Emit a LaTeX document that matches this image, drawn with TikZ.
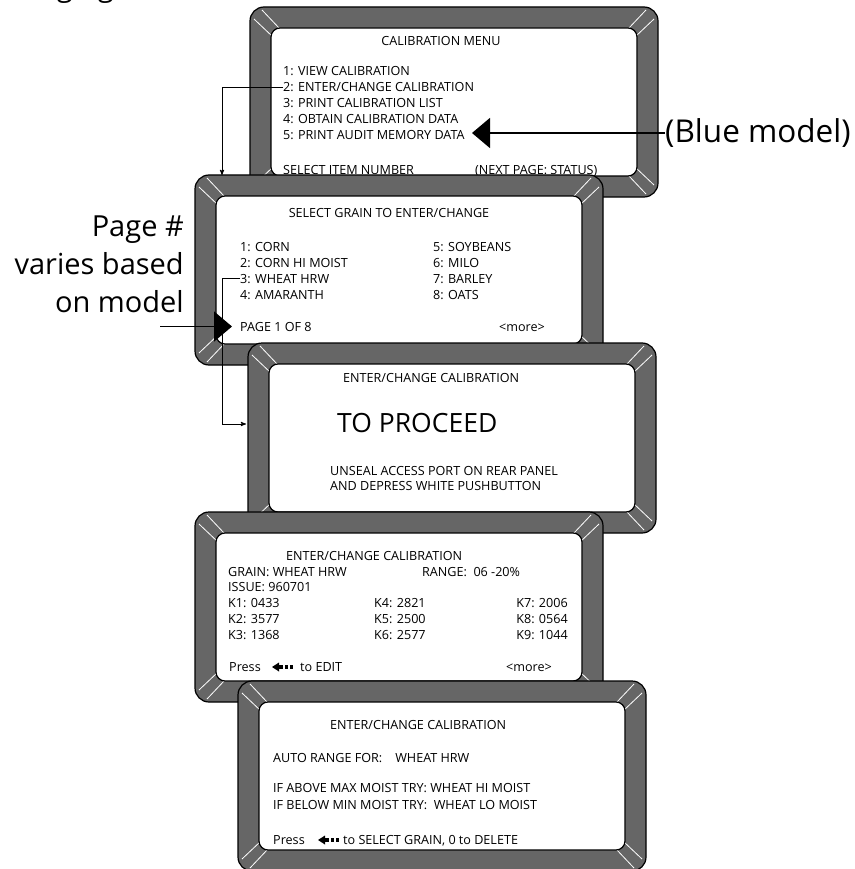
\documentclass[tikz,border=0pt]{standalone}
\usepackage{fontspec}
\setmainfont{Open Sans}
\usetikzlibrary{arrows, arrows.meta, positioning}
\definecolor{bezel}{RGB}{102,102,102}

\begin{document}
\begin{tikzpicture}[x=1pt, y=-1pt]
	\tikzset{scr/.style={font=\fontsize{12.6}{14}\selectfont, inner sep=0pt, text height=9pt, text depth=0pt, anchor=base west},
		big/.style={font=\fontsize{29}{38}\selectfont, inner sep=0pt},
		link/.style={->, >=stealth', line width=0.9pt},
		pointer/.style={-{Triangle[length=18pt, width=30pt]}, line width=1.6pt},
		screen/.pic={
			\draw[fill=bezel, line width=1.2pt, rounded corners=14pt] (0,0) rectangle (408,190);
			\foreach \sx/\sy/\ox/\oy in {1/1/0/0, -1/1/408/0, 1/-1/0/190, -1/-1/408/190}
				\draw[white, line width=0.8pt, shift={(\ox,\oy)}, xscale=\sx, yscale=\sy] (4,12) -- (23,30) (12,3) -- (30,22);
			\draw[fill=white, line width=1.2pt, rounded corners=9pt] (21,21) rectangle (387,169);
		},
		delkey/.pic={
			\fill (0,0) -- (7,-4.5) -- (7,4.5) -- cycle;
			\fill (7,-1.8) rectangle (11,1.8);
			\fill (12.5,-2) rectangle (16,2);
			\fill (17.5,-2) rectangle (21,2);
		}
	}
	\useasboundingbox (0,0) rectangle (854,869);

	% heading cut off at the top
	\node[big, anchor=base east] (head) at (114,-3) {Changing};

	% calibration menu
	\pic at (250,7) {screen};
	\node[scr, anchor=base] (m1title) at (441,46) {CALIBRATION MENU};
	\node[scr] (m1a) at (283,76) {1: VIEW CALIBRATION};
	\node[scr] (m1b) at (283,92) {2: ENTER/CHANGE CALIBRATION};
	\node[scr] (m1c) at (283,108) {3: PRINT CALIBRATION LIST};
	\node[scr] (m1d) at (283,124) {4: OBTAIN CALIBRATION DATA};
	\node[scr] (m1e) at (283,140) {5: PRINT AUDIT MEMORY DATA};
	\node[scr] (m1sel) at (283,175) {SELECT ITEM NUMBER};
	\node[scr] (m1next) at (475,175) {(NEXT PAGE: STATUS)};

	% grain list
	\pic at (195,175) {screen};
	\node[scr, anchor=base] (g0) at (389,217) {SELECT GRAIN TO ENTER/CHANGE};
	\node[scr] (g1) at (240,251) {1: CORN};
	\node[scr] (g2) at (240,267) {2: CORN HI MOIST};
	\node[scr] (g3) at (240,283) {3: WHEAT HRW};
	\node[scr] (g4) at (240,299) {4: AMARANTH};
	\node[scr] (g5) at (433,251) {5: SOYBEANS};
	\node[scr] (g6) at (433,267) {6: MILO};
	\node[scr] (g7) at (433,283) {7: BARLEY};
	\node[scr] (g8) at (433,299) {8: OATS};
	\node[scr] (pg1) at (240,331) {PAGE 1 OF 8};
	\node[scr, anchor=base east] (gmore) at (545,331) {<more>};

	% proceed
	\pic at (248,343) {screen};
	\node[scr] (p0) at (343,382) {ENTER/CHANGE CALIBRATION};
	\node[scr, font=\fontsize{26.5}{32}\selectfont, text height=19pt] (proceed) at (337,432) {TO PROCEED};
	\node[scr] (p1) at (330,475) {UNSEAL ACCESS PORT ON REAR PANEL};
	\node[scr] (p2) at (330,490) {AND DEPRESS WHITE PUSHBUTTON};

	% constants
	\pic at (195,512) {screen};
	\node[scr] (k0) at (286,560) {ENTER/CHANGE CALIBRATION};
	\node[scr] (kgrain) at (228,576) {GRAIN: WHEAT HRW};
	\node[scr] (krange) at (422,576) {RANGE:\ \ 06 -20\%};
	\node[scr] (kissue) at (228,591) {ISSUE: 960701};
	\node[scr] (k1) at (228,607) {K1: 0433};
	\node[scr] (k2) at (228,623) {K2: 3577};
	\node[scr] (k3) at (228,639) {K3: 1368};
	\node[scr] (k4) at (374,607) {K4: 2821};
	\node[scr] (k5) at (374,623) {K5: 2500};
	\node[scr] (k6) at (374,639) {K6: 2577};
	\node[scr, anchor=base east] (k7) at (568,607) {K7: 2006};
	\node[scr, anchor=base east] (k8) at (568,623) {K8: 0564};
	\node[scr, anchor=base east] (k9) at (568,639) {K9: 1044};
	\node[scr] (kpress) at (229,671) {Press};
	\pic at (272,667) {delkey};
	\node[scr] (kedit) at (300,671) {to EDIT};
	\node[scr, anchor=base east] (kmore) at (552,671) {<more>};

	% auto range
	\pic at (238,681) {screen};
	\node[scr] (a0) at (330,729) {ENTER/CHANGE CALIBRATION};
	\node[scr] (a1) at (273,762) {AUTO RANGE FOR:\hspace{13pt}WHEAT HRW};
	\node[scr] (a2) at (273,792) {IF ABOVE MAX MOIST TRY: WHEAT HI MOIST};
	\node[scr] (a3) at (273,809) {IF BELOW MIN MOIST TRY:\ \ WHEAT LO MOIST};
	\node[scr] (apress) at (273,844) {Press};
	\pic at (318,840) {delkey};
	\node[scr] (asel) at (343,844) {to SELECT GRAIN, 0 to DELETE};

	% notes
	\node[big, anchor=west, font=\fontsize{31.5}{38}\selectfont] (blue) at (665,133) {(Blue model)};
	\node[big, anchor=north east, align=right] (pgnote) at (184,216) {Page \#\\varies based\\on model};

	\coordinate (tipblue) at (472,133);
	\coordinate (s2top) at (222,175);
	\coordinate (bend2) at (222,424);
	\coordinate (s3in) at (246,424);
	\path (pg1.west) ++(-80pt,0) coordinate (pgtail);

	\draw[link] (m1b.west) -| (s2top);
	\draw[link] (g3.west) -| (bend2) -- (s3in);
	\draw[pointer] (blue.west) -- (tipblue);
	\draw[pointer] (pgtail) -- ([xshift=-8pt]pg1.west);
\end{tikzpicture}
\end{document}
